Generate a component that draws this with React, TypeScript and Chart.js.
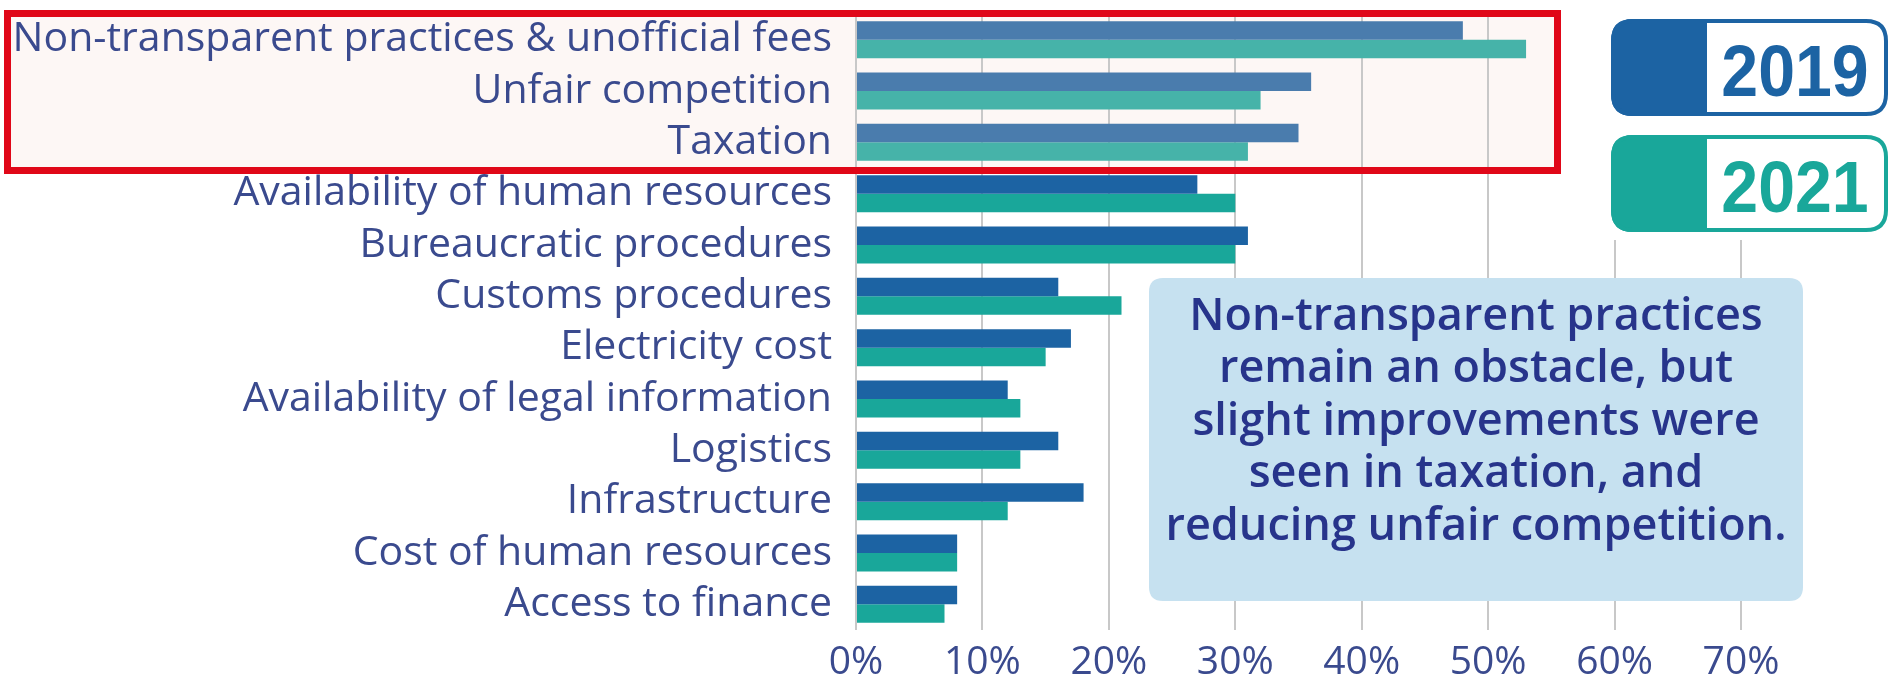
import React, { useEffect, useRef } from "react";
import { Chart, registerables } from "chart.js";

Chart.register(...registerables);

const categories = [
  "Non-transparent practices & unofficial fees",
  "Unfair competition",
  "Taxation",
  "Availability of human resources",
  "Bureaucratic procedures",
  "Customs procedures",
  "Electricity cost",
  "Availability of legal information",
  "Logistics",
  "Infrastructure",
  "Cost of human resources",
  "Access to finance",
];
const values2019 = [48, 36, 35, 27, 31, 16, 17, 12, 16, 18, 8, 8];
const values2021 = [53, 32, 31, 30, 30, 21, 15, 13, 13, 12, 8, 7];
const seriesLabels = ["2019", "2021"];
const xTicks = [0, 10, 20, 30, 40, 50, 60, 70];
const highlightedCount = 3;
const noteLines = [
  "Non-transparent practices",
  "remain an obstacle, but",
  "slight improvements were",
  "seen in taxation, and",
  "reducing unfair competition.",
];

const BLUE = "#1c63a3";
const TEAL = "#19a79a";
const BLUE_LIGHT = "#4a7cad";
const TEAL_LIGHT = "#46b3a9";
const TEXT = "#3a4a8e";
const NOTE_TEXT = "#27348b";

function roundRectPath(ctx: CanvasRenderingContext2D, x: number, y: number, w: number, h: number, r: number) {
  ctx.beginPath();
  ctx.moveTo(x + r, y);
  ctx.lineTo(x + w - r, y);
  ctx.quadraticCurveTo(x + w, y, x + w, y + r);
  ctx.lineTo(x + w, y + h - r);
  ctx.quadraticCurveTo(x + w, y + h, x + w - r, y + h);
  ctx.lineTo(x + r, y + h);
  ctx.quadraticCurveTo(x, y + h, x, y + h - r);
  ctx.lineTo(x, y + r);
  ctx.quadraticCurveTo(x, y, x + r, y);
  ctx.closePath();
}

const decorPlugin = {
  id: "decor",
  beforeDraw(chart: any) {
    const ctx = chart.ctx as CanvasRenderingContext2D;
    ctx.save();
    ctx.fillStyle = "#ffffff";
    ctx.fillRect(0, 0, chart.width, chart.height);
    ctx.fillStyle = "#fdf7f5";
    ctx.fillRect(7, 13, 1550, 157);
    ctx.restore();
  },
  afterDraw(chart: any) {
    const ctx = chart.ctx as CanvasRenderingContext2D;
    ctx.save();
    // highlight frame
    ctx.strokeStyle = "#e00718";
    ctx.lineWidth = 7;
    ctx.strokeRect(7.5, 13.5, 1550, 157);

    // legend area cover
    ctx.fillStyle = "#ffffff";
    ctx.fillRect(1600, 0, 291, 240);

    const colors = [BLUE, TEAL];
    const tops = [19, 135];
    seriesLabels.forEach((lab, i) => {
      const x = 1611, y = tops[i], w = 277, h = 97, r = 22;
      ctx.save();
      roundRectPath(ctx, x, y, w, h, r);
      ctx.fillStyle = "#ffffff";
      ctx.fill();
      ctx.clip();
      ctx.fillStyle = colors[i];
      ctx.fillRect(x, y, 96, h);
      ctx.restore();
      roundRectPath(ctx, x + 2, y + 2, w - 4, h - 4, r - 2);
      ctx.strokeStyle = colors[i];
      ctx.lineWidth = 4;
      ctx.stroke();
      ctx.save();
      ctx.fillStyle = colors[i];
      ctx.font = "bold 72px 'Liberation Sans', Arial, sans-serif";
      ctx.textAlign = "center";
      ctx.textBaseline = "alphabetic";
      ctx.translate(1795, y + 77);
      ctx.scale(0.92, 1);
      ctx.fillText(lab, 0, 0);
      ctx.restore();
    });

    // note box
    roundRectPath(ctx, 1149, 278, 654, 323, 14);
    ctx.fillStyle = "#c6e1f0";
    ctx.fill();
    ctx.fillStyle = NOTE_TEXT;
    ctx.font = "600 45px 'Open Sans', sans-serif";
    ctx.textAlign = "center";
    ctx.textBaseline = "middle";
    noteLines.forEach((line, i) => {
      ctx.fillText(line, 1476, 317 + i * 52.5);
    });
    ctx.restore();
  },
};

export default function App() {
  const ref = useRef<HTMLCanvasElement | null>(null);
  useEffect(() => {
    if (!ref.current) return;
    const bg2019 = values2019.map((_, i) => (i < highlightedCount ? BLUE_LIGHT : BLUE));
    const bg2021 = values2021.map((_, i) => (i < highlightedCount ? TEAL_LIGHT : TEAL));
    const chart = new Chart(ref.current, {
      type: "bar",
      data: {
        labels: categories,
        datasets: [
          { label: seriesLabels[0], data: values2019, backgroundColor: bg2019 },
          { label: seriesLabels[1], data: values2021, backgroundColor: bg2021 },
        ],
      },
      options: {
        indexAxis: "y",
        animation: false,
        responsive: false,
        categoryPercentage: 0.72,
        barPercentage: 1,
        layout: { padding: { top: 14, right: 150, left: 0, bottom: 0 } },
        plugins: { legend: { display: false }, tooltip: { enabled: false } },
        scales: {
          x: {
            min: 0,
            max: 70,
            afterBuildTicks: (scale: any) => {
              scale.ticks = xTicks.map((v) => ({ value: v }));
            },
            afterFit: (scale: any) => {
              scale.height = 46;
              scale.paddingLeft = 0;
              scale.paddingRight = 0;
            },
            grid: { color: "#c8c8c8", lineWidth: 2, drawTicks: false },
            border: { display: false },
            ticks: {
              color: TEXT,
              padding: 9,
              autoSkip: false,
              maxRotation: 0,
              font: { family: "'Open Sans'", size: 39, weight: "400" },
              callback: (v: any) => v + "%",
            },
          },
          y: {
            afterFit: (scale: any) => {
              scale.width = 856;
              scale.paddingTop = 0;
              scale.paddingBottom = 0;
            },
            grid: { display: false, drawTicks: false },
            border: { display: false },
            ticks: {
              color: TEXT,
              padding: 24,
              autoSkip: false,
              font: { family: "'Open Sans'", size: 41, weight: "400" },
            },
          },
        },
      },
      plugins: [decorPlugin],
    } as any);
    return () => chart.destroy();
  }, []);
  return (
    <div style={{ position: "absolute", left: 0, top: 0, width: 1891, height: 676 }}>
      <canvas ref={ref} width={1891} height={676} style={{ display: "block" }} />
    </div>
  );
}
